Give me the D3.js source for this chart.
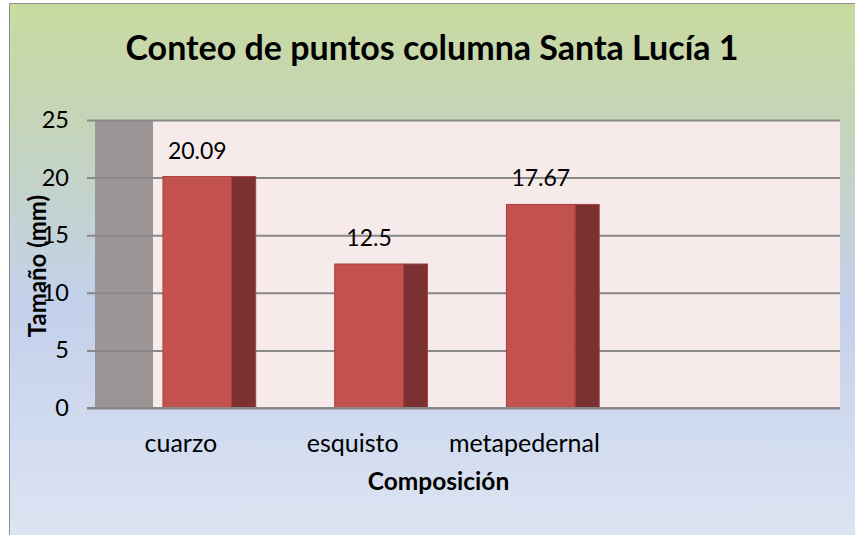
<!DOCTYPE html>
<html>
<head>
<meta charset="utf-8">
<script src="https://cdn.jsdelivr.net/npm/d3@7"></script>
<style>
  body { margin: 0; background: #fff; }
  text { font-family: Lato, "Noto Sans", sans-serif; fill: #000; }
</style>
</head>
<body>
<div id="chartDiv"></div>
<script>
// data (4th slot is empty in the original)
var categories = ["cuarzo", "esquisto", "metapedernal", ""];
var values = [20.09, 12.5, 17.67, null];
var yTicks = [0, 5, 10, 15, 20, 25];

var titleText = "Conteo de puntos columna Santa Lucía 1";
var xTitle = "Composición";
var yTitle = "Tamaño (mm)";

var W = 855, H = 535;
var depth = 58;                       // side wall width (3d offset)
var plot = {left: 95, right: 782, top: 120, bottom: 408};

var svg = d3.select("#chartDiv").append("svg")
    .attr("width", W)
    .attr("height", H);

var defs = svg.append("defs");
var grad = defs.append("linearGradient")
    .attr("id", "bg").attr("x1", 0).attr("y1", 0).attr("x2", 0).attr("y2", 1);
grad.append("stop").attr("offset", "0%").attr("stop-color", "#c9daa0");
grad.append("stop").attr("offset", "22%").attr("stop-color", "#c4d5b9");
grad.append("stop").attr("offset", "55%").attr("stop-color", "#c3d0eb");
grad.append("stop").attr("offset", "100%").attr("stop-color", "#dee5f3");

svg.append("rect")
    .attr("x", 9.5).attr("y", 3.5)
    .attr("width", W + 10).attr("height", H + 10)
    .attr("fill", "url(#bg)")
    .attr("stroke", "#8f8f8f").attr("stroke-width", 1);

var y = d3.scaleLinear()
    .domain([0, 25])
    .range([plot.bottom, plot.top]);

// front edge of floor (labels) and back wall (bars)
var xFront = d3.scaleBand()
    .domain(categories)
    .range([plot.left, plot.right]);
var xBack = d3.scaleBand()
    .domain(categories)
    .range([plot.left + depth, plot.right + depth]);

var bw = xBack.bandwidth();

// back wall
svg.append("rect")
    .attr("x", plot.left + depth).attr("y", plot.top)
    .attr("width", plot.right - plot.left).attr("height", plot.bottom - plot.top)
    .attr("fill", "#f7eaea");

// side wall
svg.append("rect")
    .attr("x", plot.left).attr("y", plot.top)
    .attr("width", depth).attr("height", plot.bottom - plot.top)
    .attr("fill", "#9c9595");

// gridlines + ticks
var yAxis = d3.axisLeft(y)
    .tickValues(yTicks)
    .tickSize(-(plot.right + depth - plot.left + 8))
    .tickPadding(18)
    .tickFormat(d3.format("d"));

var yG = svg.append("g")
    .attr("transform", "translate(" + (plot.left - 8) + ",0)")
    .call(yAxis);
yG.select(".domain").remove();
yG.selectAll(".tick line")
    .attr("stroke", "#888").attr("stroke-width", 2);
yG.selectAll(".tick text")
    .attr("font-size", 23.5)
    .attr("font-family", "Lato, 'Noto Sans', sans-serif")
    .attr("fill", "#000");

// bars
var bars = svg.append("g").selectAll(".bar")
    .data(categories.map(function(c, i) { return {cat: c, v: values[i]}; })
        .filter(function(d) { return d.v != null; }))
    .enter().append("g").attr("class", "bar");

bars.append("rect")
    .attr("x", function(d) { return xBack(d.cat) + bw * 0.058; })
    .attr("y", function(d) { return y(d.v); })
    .attr("width", bw * 0.40)
    .attr("height", function(d) { return y(0) - y(d.v); })
    .attr("fill", "#c3524f")
    .attr("stroke", "#a8403d").attr("stroke-width", 1);

bars.append("rect")
    .attr("x", function(d) { return xBack(d.cat) + bw * 0.458; })
    .attr("y", function(d) { return y(d.v); })
    .attr("width", bw * 0.14)
    .attr("height", function(d) { return y(0) - y(d.v); })
    .attr("fill", "#7b3131")
    .attr("stroke", "#a8403d").attr("stroke-width", 1);

bars.append("text")
    .attr("x", function(d) { return xBack(d.cat) + bw * 0.258; })
    .attr("y", function(d) { return y(d.v) - 18; })
    .attr("text-anchor", "middle")
    .attr("font-size", 23)
    .text(function(d) { return d.v; });

// floor line
svg.append("line")
    .attr("x1", plot.left - 8).attr("x2", plot.right + depth)
    .attr("y1", y(0)).attr("y2", y(0))
    .attr("stroke", "#888").attr("stroke-width", 2);

// category labels on the front edge
svg.append("g").selectAll("text")
    .data(categories)
    .enter().append("text")
    .attr("x", function(d) { return xFront(d) + xFront.bandwidth() / 2; })
    .attr("y", 452)
    .attr("text-anchor", "middle")
    .attr("font-size", 25)
    .text(function(d) { return d; });

// titles
svg.append("text")
    .attr("x", 432).attr("y", 60)
    .attr("text-anchor", "middle")
    .attr("font-size", 34).attr("font-weight", "bold")
    .text(titleText);

svg.append("text")
    .attr("x", (plot.left + plot.right) / 2).attr("y", 490)
    .attr("text-anchor", "middle")
    .attr("font-size", 24.5).attr("font-weight", "bold")
    .text(xTitle);

svg.append("text")
    .attr("transform", "translate(46,266) rotate(-90)")
    .attr("text-anchor", "middle")
    .attr("font-size", 24).attr("font-weight", "bold")
    .text(yTitle);
</script>
</body>
</html>
